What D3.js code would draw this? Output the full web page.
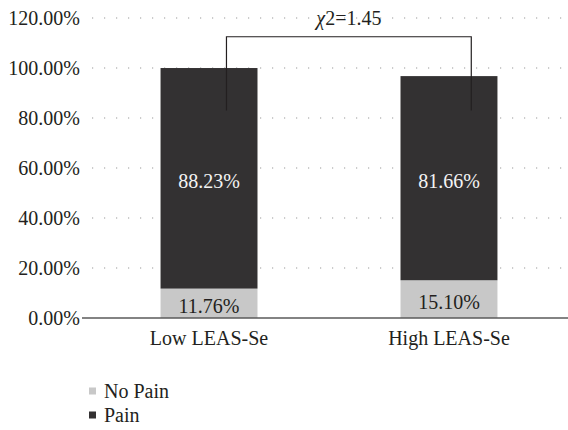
<!DOCTYPE html>
<html>
<head>
<meta charset="utf-8">
<script src="https://cdn.jsdelivr.net/npm/d3@7"></script>
<style>
  body { margin: 0; background: #fff; }
  text { font-family: "Liberation Serif", "DejaVu Serif", serif; fill: #231f20; }
</style>
</head>
<body>
<div id="chart"></div>
<script>
const categories = ["Low LEAS-Se", "High LEAS-Se"];
const noPain = [11.76, 15.10];
const pain = [88.23, 81.66];
const yTicks = [0, 20, 40, 60, 80, 100, 120];
const seriesNames = ["No Pain", "Pain"];
const chiLabel = "2=1.45";

const width = 568, height = 430;
const margin = { top: 18, right: 0, bottom: 112, left: 90 };
const fs = "20px";

const svg = d3.select("#chart").append("svg")
    .attr("width", width)
    .attr("height", height)
    .attr("font-family", "Liberation Serif, serif");

const x = d3.scaleBand()
    .domain(categories)
    .range([margin.left, width - margin.right])
    .paddingInner(0.596)
    .paddingOuter(0.294);

const y = d3.scaleLinear()
    .domain([0, 120])
    .range([height - margin.bottom, margin.top]);

const colors = { "No Pain": "#c8c8c8", "Pain": "#333132" };

// dotted gridlines
svg.append("g")
    .selectAll("line")
    .data(yTicks.filter(d => d > 0))
    .enter().append("line")
    .attr("x1", margin.left + 2)
    .attr("x2", width)
    .attr("y1", d => y(d))
    .attr("y2", d => y(d))
    .attr("stroke", "#9a9a9a")
    .attr("stroke-width", 1.2)
    .attr("stroke-dasharray", "1.2,10.8");

// y tick labels
svg.append("g")
    .selectAll("text")
    .data(yTicks)
    .enter().append("text")
    .attr("x", 80)
    .attr("y", d => y(d))
    .attr("dy", "0.35em")
    .attr("text-anchor", "end")
    .style("font-size", fs)
    .text(d => d.toFixed(2) + "%");

// stacked bars
const rows = categories.map((c, i) => ({ cat: c, noPain: noPain[i], pain: pain[i] }));
const stack = d3.stack().keys(["noPain", "pain"])(rows);

svg.append("g")
    .selectAll("g")
    .data(stack)
    .enter().append("g")
    .attr("fill", (d, i) => colors[seriesNames[i]])
    .selectAll("rect")
    .data(d => d)
    .enter().append("rect")
    .attr("x", d => x(d.data.cat))
    .attr("width", x.bandwidth())
    .attr("y", d => y(d[1]))
    .attr("height", d => y(d[0]) - y(d[1]));

// value labels
rows.forEach(r => {
    svg.append("text")
        .attr("x", x(r.cat) + x.bandwidth() / 2)
        .attr("y", y(r.noPain / 2))
        .attr("dy", "0.5em")
        .attr("text-anchor", "middle")
        .style("font-size", fs)
        .text(r.noPain.toFixed(2) + "%");
    svg.append("text")
        .attr("x", x(r.cat) + x.bandwidth() / 2)
        .attr("y", y(r.noPain + r.pain / 2))
        .attr("dy", "0.5em")
        .attr("text-anchor", "middle")
        .style("font-size", fs)
        .style("fill", "#f4f4f4")
        .text(r.pain.toFixed(2) + "%");
});

// x axis line
svg.append("line")
    .attr("x1", 82)
    .attr("x2", width)
    .attr("y1", y(0))
    .attr("y2", y(0))
    .attr("stroke", "#5a5a5a")
    .attr("stroke-width", 1.5);

// x labels
svg.append("g")
    .selectAll("text")
    .data(categories)
    .enter().append("text")
    .attr("x", d => x(d) + x.bandwidth() / 2)
    .attr("y", y(0) + 27)
    .attr("text-anchor", "middle")
    .style("font-size", fs)
    .text(d => d);

// chi-square bracket
const bx1 = x(categories[0]) + x.bandwidth() * 0.68;
const bx2 = x(categories[1]) + x.bandwidth() * 0.73;
const by = y(112.5);
const bEnd = y(83);
svg.append("path")
    .attr("d", `M${bx1},${bEnd}V${by}H${bx2}V${bEnd}`)
    .attr("fill", "none")
    .attr("stroke", "#231f20")
    .attr("stroke-width", 1.2);

const chi = svg.append("text")
    .attr("x", (bx1 + bx2) / 2)
    .attr("y", by - 12)
    .attr("text-anchor", "middle")
    .style("font-size", fs);
chi.append("tspan").style("font-style", "italic").text("\u03c7");
chi.append("tspan").text(chiLabel);

// legend
const legend = svg.append("g")
    .selectAll("g")
    .data(seriesNames)
    .enter().append("g")
    .attr("transform", (d, i) => `translate(89,${391 + i * 24})`);

legend.append("rect")
    .attr("x", 0)
    .attr("y", -3.5)
    .attr("width", 7)
    .attr("height", 7)
    .attr("fill", d => colors[d]);

legend.append("text")
    .attr("x", 15)
    .attr("y", 0)
    .attr("dy", "0.33em")
    .style("font-size", fs)
    .text(d => d);
</script>
</body>
</html>
